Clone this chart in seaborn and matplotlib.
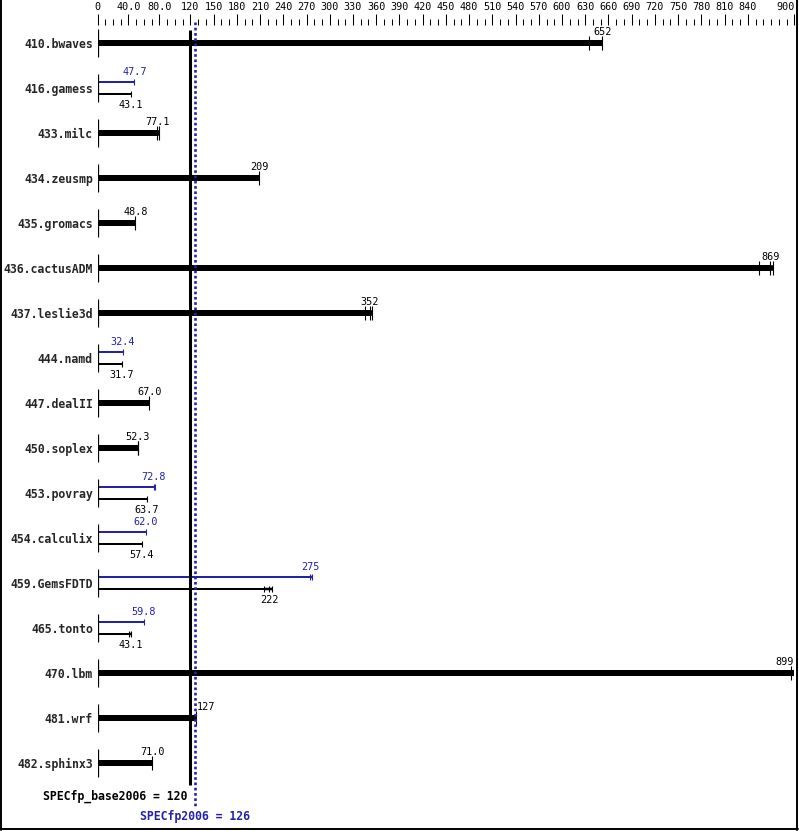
import numpy as np
import pandas as pd
import matplotlib
matplotlib.use("Agg")
import matplotlib.pyplot as plt
from matplotlib.lines import Line2D
import seaborn as sns

# ---------------- data ----------------
benchmarks = ["410.bwaves", "416.gamess", "433.milc", "434.zeusmp", "435.gromacs",
              "436.cactusADM", "437.leslie3d", "444.namd", "447.dealII", "450.soplex",
              "453.povray", "454.calculix", "459.GemsFDTD", "465.tonto", "470.lbm",
              "481.wrf", "482.sphinx3"]
base_values = [652, 43.1, 77.1, 209, 48.8, 869, 352, 31.7, 67.0, 52.3,
               63.7, 57.4, 222, 43.1, 899, 127, 71.0]
base_labels = ["652", "43.1", "77.1", "209", "48.8", "869", "352", "31.7", "67.0", "52.3",
               "63.7", "57.4", "222", "43.1", "899", "127", "71.0"]
# peak results (None = same as base)
peak_values = [None, 47.7, None, None, None, None, None, 32.4, None, None,
               72.8, 62.0, 275, 59.8, None, None, None]
peak_labels = [None, "47.7", None, None, None, None, None, "32.4", None, None,
               "72.8", "62.0", "275", "59.8", None, None, None]
# individual run results (ticks)
base_runs = [[635, 652], [43.1], [77.1, 79.3], [209], [48.8],
             [855, 869, 872], [345, 352, 354], [31.7], [67.0], [52.3, 52.9],
             [63.7], [57.4], [215, 222, 226], [40.5, 43.1], [896, 899],
             [127], [71.0]]
peak_runs = [None, [47.7], None, None, None, None, None, [32.4], None, None,
             [72.8, 74.6], [62.0], [275, 277], [59.8], None, None, None]

tick_values = [0, 40, 80, 120, 150, 180, 210, 240, 270, 300, 330, 360, 390, 420, 450,
               480, 510, 540, 570, 600, 630, 660, 690, 720, 750, 780, 810, 840, 900]
tick_labels = ["0", "40.0", "80.0", "120", "150", "180", "210", "240", "270", "300",
               "330", "360", "390", "420", "450", "480", "510", "540", "570", "600",
               "630", "660", "690", "720", "750", "780", "810", "840", "900"]
base_mean = 120
peak_mean = 126
base_mean_label = "SPECfp_base2006 = 120"
peak_mean_label = "SPECfp2006 = 126"

BLUE = "#2222AA"
BLACK = "#000000"

# ---------------- figure ----------------
sns.set_style("white")
plt.rcParams["font.family"] = ["DejaVu Sans Mono", "DejaVu Sans"]

W, H = 799, 831
fig = plt.figure(figsize=(W / 100, H / 100), dpi=100)
ax_left, ax_right, ax_top = 97.5, 794.3, 25
ax = fig.add_axes([ax_left / W, 0, (ax_right - ax_left) / W, 1 - ax_top / H])

row_px = 45.0
first_row_px = 43.0

single_idx = [i for i in range(len(benchmarks)) if peak_values[i] is None]
split_idx = [i for i in range(len(benchmarks)) if peak_values[i] is not None]

df_single = pd.DataFrame({
    "benchmark": [benchmarks[i] for i in single_idx],
    "value": [base_values[i] for i in single_idx],
})
df_split = pd.DataFrame({
    "benchmark": [benchmarks[i] for i in split_idx] * 2,
    "kind": ["peak"] * len(split_idx) + ["base"] * len(split_idx),
    "value": [peak_values[i] for i in split_idx] + [base_values[i] for i in split_idx],
})

thick_h = 5.5 / row_px
sns.barplot(data=df_single, x="value", y="benchmark", order=benchmarks, orient="h",
            color=BLACK, saturation=1, width=thick_h, errorbar=None, linewidth=0, ax=ax)
off = 6.0 / row_px
sns.barplot(data=df_split, x="value", y="benchmark", hue="kind", order=benchmarks,
            hue_order=["peak", "base"], palette={"peak": BLUE, "base": BLACK},
            orient="h", saturation=1, dodge=True, width=4 * off, gap=0.78,
            errorbar=None, linewidth=0, legend=False, ax=ax)

px = 1.0 / row_px
for i in range(len(benchmarks)):
    # left axis segment
    ax.vlines(0, i - 14 * px, i + 14 * px, color=BLACK, lw=0.9, zorder=3)
    if peak_values[i] is None:
        runs = base_runs[i]
        ax.hlines(i, min(runs), max(runs), color=BLACK, lw=5.5 * 0.72, zorder=2)
        ax.vlines(runs, i - 7 * px, i + 7 * px, color=BLACK, lw=0.8, zorder=3)
        v = base_values[i]
        ha, dx = "center", 0
        if abs(v - base_mean) < 15:
            ha, dx = "left", 1
        elif v > 880:
            ha, dx = "right", 0
        ax.annotate(base_labels[i], (v, i - 11 * px), xytext=(dx, 0),
                    textcoords="offset points", ha=ha, va="center",
                    fontsize=7.3, color=BLACK)
    else:
        for runs, val, lab, col, sgn, ly in [
                (peak_runs[i], peak_values[i], peak_labels[i], BLUE, -1, -15.5),
                (base_runs[i], base_values[i], base_labels[i], BLACK, 1, 17.5)]:
            yc = i + sgn * off
            ax.hlines(yc, min(runs), max(runs), color=col, lw=2.5 * 0.72, zorder=2)
            ax.vlines(runs, yc - 3 * px, yc + 3 * px, color=col, lw=0.8, zorder=3)
            ax.annotate(lab, (val, i + ly * px), ha="center", va="center",
                        fontsize=7.3, color=col)

# mean lines
ax.vlines(base_mean, (30 - first_row_px) / row_px, (785 - first_row_px) / row_px,
          color=BLACK, lw=2.2, zorder=4, clip_on=False)
ax.plot([peak_mean, peak_mean],
        [(22 - first_row_px) / row_px, (808 - first_row_px) / row_px],
        color=BLUE, lw=1.9, linestyle=(0, (1, 1)), zorder=4, clip_on=False)
ax.annotate(base_mean_label, (base_mean, (796 - first_row_px) / row_px), xytext=(-2, 0),
            textcoords="offset points", ha="right", va="center", fontsize=8.3,
            fontweight="bold", color=BLACK)
ax.annotate(peak_mean_label, (peak_mean, (817 - first_row_px) / row_px),
            ha="center", va="center", fontsize=8.3, fontweight="bold", color=BLUE)

# axes limits / ticks
ax.set_xlim(0, 900)
ax.set_ylim((H - first_row_px) / row_px, (ax_top - first_row_px) / row_px)
ax.set_xlabel("")
ax.set_ylabel("")
for s in ax.spines.values():
    s.set_visible(False)
ax.xaxis.tick_top()
ax.set_xticks(tick_values)
ax.set_xticklabels(tick_labels)
ax.set_xticks(np.arange(0, 901, 10), minor=True)
ax.tick_params(axis="x", which="major", direction="out", length=8, width=0.75,
               pad=1.5, labelsize=7.3, color=BLACK, labelcolor=BLACK)
ax.tick_params(axis="x", which="minor", direction="out", length=4.3, width=0.75,
               color=BLACK)
ax.tick_params(axis="y", length=0, pad=3.3, labelsize=8.3)
for t in ax.get_yticklabels():
    t.set_fontweight("bold")
# last top label sits left of its tick (kept inside the frame)
last = ax.get_xticklabels()[-1]
last.set_horizontalalignment("right")
ax.grid(False)
ax.set_facecolor("white")

# outer frame
for (x0, y0, x1, y1) in [(0.6, 0, 0.6, H - 1.5), (0, H - 2.2, W - 1, H - 2.2),
                         (W - 1.6, 0, W - 1.6, H - 1.5)]:
    fig.add_artist(Line2D([x0 / W, x1 / W], [1 - y0 / H, 1 - y1 / H],
                          transform=fig.transFigure, color=BLACK, lw=1.4))

fig.savefig("out.png", dpi=100, facecolor="white")
